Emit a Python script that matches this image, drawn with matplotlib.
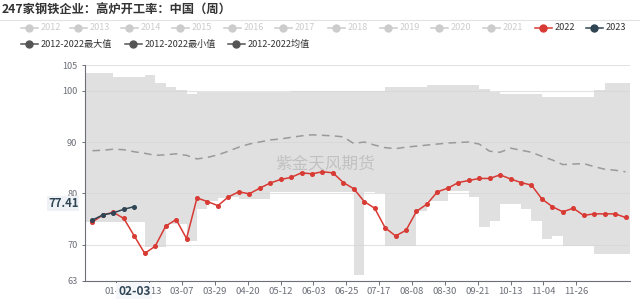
import numpy as np
import pandas as pd
import matplotlib
matplotlib.use("Agg")
import matplotlib.pyplot as plt
import matplotlib.dates as mdates

plt.rcParams['font.family'] = ['Noto Sans CJK SC', 'DejaVu Sans']

title = "247家钢铁企业：高炉开工率：中国（周）"

# weekly points, all years drawn on the same calendar
week_dates = pd.date_range("2023-01-06", periods=52, freq="7D")

v2022 = [74.4, 75.8, 76.3, 75.1, 71.7, 68.3, 69.7, 73.6, 74.9, 71.2,
         79.1, 78.4, 77.6, 79.3, 80.3, 79.9, 81.0, 82.0, 82.7, 83.1,
         84.0, 83.8, 84.2, 84.0, 82.1, 80.9, 78.4, 77.1, 73.3, 71.7,
         72.8, 76.5, 77.9, 80.3, 81.0, 82.1, 82.5, 82.9, 82.9, 83.6,
         82.8, 82.1, 81.6, 78.9, 77.4, 76.4, 77.1, 75.7, 76.0, 76.0,
         76.0, 75.3]
v2023 = [74.8, 75.8, 76.2, 76.9, 77.41]

avg_vals = [88.3, 88.4, 88.6, 88.5, 88.1, 87.8, 87.4, 87.5, 87.7, 87.4,
            86.7, 87.0, 87.5, 88.2, 89.0, 89.6, 90.0, 90.4, 90.6, 90.9,
            91.2, 91.4, 91.3, 91.2, 91.0, 89.7, 90.0, 89.4, 88.9, 88.7,
            89.0, 89.2, 89.4, 89.6, 89.8, 89.9, 90.0, 89.6, 88.2, 88.0,
            88.8, 88.4, 88.0, 87.2, 86.5, 85.6, 85.7, 85.8, 85.2, 84.7,
            84.5, 84.2]

max_vals = [103.4, 103.4, 102.7, 102.7, 102.7, 103.0, 101.4, 100.8, 100.1, 99.3,
            99.8, 99.8, 99.8, 99.8, 99.8, 99.8, 99.8, 99.8, 99.8,
            99.9, 99.9, 99.9, 99.9, 99.9, 99.9, 99.9, 99.9, 99.9,
            100.8, 100.8, 100.8, 100.8,
            101.1, 101.1, 101.1, 101.1, 101.1,
            100.3, 99.8, 99.3, 99.3, 99.3, 99.3,
            98.8, 98.8, 98.8, 98.8, 98.8,
            100.1, 101.4, 101.4, 101.4]

min_vals = [74.4, 74.4, 74.4, 74.4, 74.4, 69.6, 69.6, 74.0, 74.0, 70.8,
            76.9, 78.6, 79.0, 79.2, 78.9, 78.9, 78.9,
            80.2, 80.2, 80.2, 80.2, 80.2, 80.2, 80.2, 80.2,
            64.1, 80.2, 80.0, 69.8, 69.8, 69.8,
            76.6, 78.6, 78.6, 80.5, 80.5, 79.3, 73.4, 74.7, 77.9, 77.9,
            76.9, 74.7, 71.1, 71.7, 69.8, 69.8, 69.8, 68.1, 68.1, 68.1, 68.1]

tick_labels = ["01-22", "02-13", "03-07", "03-29", "04-20", "05-12", "06-03",
               "06-25", "07-17", "08-08", "08-30", "09-21", "10-13", "11-04", "11-26"]
y_ticks = [63, 70, 80, 90, 100, 105]

legend_years = ["2012", "2013", "2014", "2015", "2016", "2017", "2018",
                "2019", "2020", "2021", "2022", "2023"]
legend_stats = ["2012-2022最大值", "2012-2022最小值", "2012-2022均值"]

RED = "#d83a34"
NAVY = "#2f4554"
AXIS = "#6e7079"

x = mdates.date2num(week_dates)
x0 = mdates.date2num(pd.Timestamp("2023-01-01"))
x1 = mdates.date2num(pd.Timestamp("2024-01-01"))

fig = plt.figure(figsize=(6.4, 3.02), dpi=100)
ax = fig.add_axes([85 / 640, 1 - 280.6 / 302, 545 / 640, (280.6 - 65) / 302])

# min-max band as steps
bx = np.r_[x0, x, x1]
blo = np.r_[min_vals[0], min_vals, min_vals[-1]]
bhi = np.r_[max_vals[0], max_vals, max_vals[-1]]
ax.fill_between(bx, blo, bhi, step="post", color="#d4d4d4", alpha=0.7, lw=0, zorder=1)

ax.plot(x, avg_vals, color="#9a9a9a", lw=1.1, dashes=(5, 3.5), zorder=3)
ax.plot(x, v2022, color=RED, lw=1.1, marker="o", ms=2.6, zorder=4)
ax.plot(x[:len(v2023)], v2023, color=NAVY, lw=1.1, marker="o", ms=2.6, zorder=5)

ax.text(0.44, 0.54, "紫金天风期货", transform=ax.transAxes, fontsize=12,
        color="#b5b5b5", alpha=0.7, ha="center", va="center", zorder=6)

ax.set_xlim(x0, x1)
ax.set_ylim(63, 105)
ax.set_yticks(y_ticks)
ax.set_xticks(mdates.date2num([pd.Timestamp("2023-" + t) for t in tick_labels]))
ax.set_xticklabels(tick_labels)
ax.tick_params(axis="y", length=2.5, width=0.7, color=AXIS, labelcolor=AXIS,
               labelsize=6.6, pad=3)
ax.tick_params(axis="x", length=3, width=0.7, color=AXIS, labelcolor=AXIS,
               labelsize=6.8, pad=1.5)
ax.yaxis.grid(True, color="#e3e3e3", lw=0.8, zorder=0)
ax.set_axisbelow(True)
for s in ["top", "right"]:
    ax.spines[s].set_visible(False)
for s in ["left", "bottom"]:
    ax.spines[s].set_color(AXIS)
    ax.spines[s].set_linewidth(0.8)

# axis pointer labels
ax.annotate("02-03", xy=(mdates.date2num(pd.Timestamp("2023-02-03")), 0),
            xycoords=("data", "axes fraction"), xytext=(0, -7.5),
            textcoords="offset points", ha="center", va="center",
            fontsize=8.6, fontweight="bold", color=NAVY, zorder=10,
            bbox=dict(boxstyle="square,pad=0.15", fc="#f4f6f9", ec="none"),
            annotation_clip=False)
ax.annotate(f"{v2023[-1]:.2f}", xy=(0, v2023[-1]),
            xycoords=("axes fraction", "data"), xytext=(-15.6, 2.4),
            textcoords="offset points", ha="center", va="center",
            fontsize=8.2, fontweight="bold", color=NAVY, zorder=10,
            bbox=dict(boxstyle="square,pad=0.08", fc="#eef1f6", ec="none"),
            annotation_clip=False)

# header: title and legend in pixel coords
ov = fig.add_axes([0, 0, 1, 1])
ov.set_xlim(0, 640)
ov.set_ylim(302, 0)
ov.axis("off")

ov.text(2, 10, title, fontsize=8.8, fontweight="bold", color="#333333", va="center")
ov.plot([0, 640], [20, 20], color="#e2e2e2", lw=0.8)

year_pos = [29, 78, 129, 180, 232, 283, 336, 388, 439, 491, 543, 594]
year_col = ["#cccccc"] * 10 + [RED, NAVY]
for lab, mx, c in zip(legend_years, year_pos, year_col):
    tc = "#cccccc" if c == "#cccccc" else "#333333"
    ov.plot([mx - 8.5, mx + 8.5], [28, 28], color=c, lw=1.1)
    ov.plot(mx, 28, "o", color=c, ms=5)
    ov.text(mx + 12, 28, lab, fontsize=6.6, color=tc, va="center")

stat_pos = [29, 133, 236]
for lab, mx in zip(legend_stats, stat_pos):
    ov.plot([mx - 8.5, mx + 8.5], [44, 44], color="#555555", lw=1.1)
    ov.plot(mx, 44, "o", color="#555555", ms=5)
    ov.text(mx + 12, 44, lab, fontsize=6.6, color="#333333", va="center")

fig.savefig("out.png", dpi=100)
